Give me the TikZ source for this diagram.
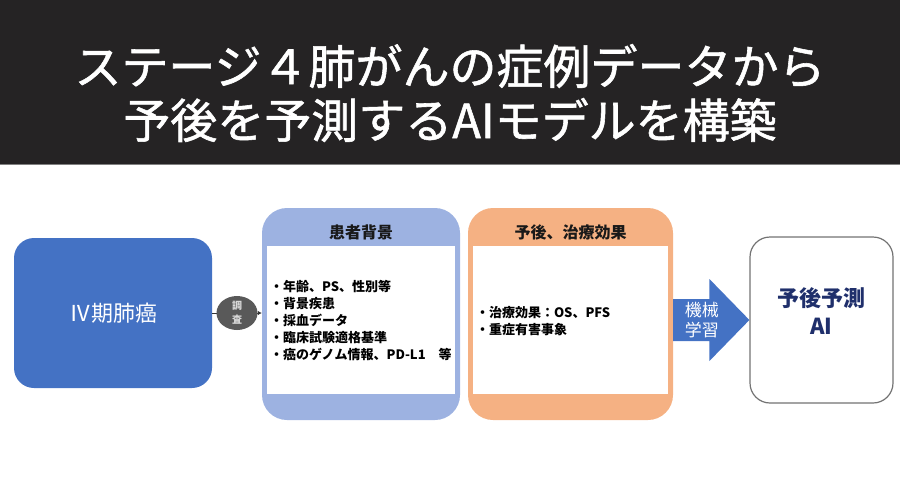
\documentclass[tikz,border=0pt]{standalone}
\usepackage{fontspec}
\setmainfont{Noto Sans CJK JP}
\newfontfamily\titlefont[FakeBold=1.2]{Noto Sans CJK JP}
\usepackage{xcolor}
\usetikzlibrary{calc,arrows.meta,shapes.geometric}
\definecolor{band}{HTML}{252324}
\definecolor{stageblue}{HTML}{4472C4}
\definecolor{lavender}{HTML}{9DB2E1}
\definecolor{salmon}{HTML}{F5B183}
\definecolor{navy}{HTML}{1F2F6B}
\tikzstyle{panel}=[rounded corners=25pt, minimum height=212pt, inner sep=0pt]
\tikzstyle{innerbox}=[fill=white, minimum height=148pt, inner sep=0pt]
\tikzstyle{items}=[font=\bfseries\fontsize{13}{17}\selectfont, align=left, inner sep=2pt, anchor=west]
\newcommand{\panelNbox}[6]{
	\node[panel, fill=#3, minimum width=#4] (#1) at #2 {};
	\node[innerbox, minimum width=#4-10pt] (#1in) at ($(#1.center)+(0,6)$) {};
	\node[font=\bfseries\fontsize{16}{16}\selectfont, text=black!90] (#1ttl) at ($(#1.north)+(0,25)$) {#5};
	\node[items] (#1txt) at ($(#1in.west)+(1,1)$) {#6};
}

\begin{document}
\begin{tikzpicture}[x=1pt, y=-1pt]
	\useasboundingbox (0,0) rectangle (900,490);
	\node[fill=band, minimum width=900pt, minimum height=164pt, inner sep=0pt, anchor=north west] (hdr) at (0,0) {};
	\draw[gray, line width=1.5pt] (hdr.south west) -- (hdr.south east);
	\node[text=white, font=\titlefont\fontsize{47}{54}\selectfont, align=center] (title) at (450,93) {ステージ４肺がんの症例データから\\予後を予測するAIモデルを構築};
	\node[fill=stageblue, rounded corners=20pt, minimum width=198pt, minimum height=150pt, text=white, font=\fontsize{22}{22}\selectfont] (stage) at (113,313) {Ⅳ期肺癌};
	\panelNbox{bg}{(361,314)}{lavender}{198pt}{患者背景}{・年齢、PS、性別等\\・背景疾患\\・採血データ\\・臨床試験適格基準\\・癌のゲノム情報、PD-L1　等}
	\panelNbox{sal}{(570.5,314)}{salmon}{205pt}{予後、治療効果}{・治療効果：OS、PFS\\・重症有害事象}
	\draw[black!80, line width=0.8pt, -{Latex[length=4pt,width=4.5pt]}] (stage.east) -- (stage.east -| bg.west);
	\node[ellipse, fill=black!65, minimum width=41pt, minimum height=34pt, inner sep=0pt, text=black!15, font=\bfseries\fontsize{10}{14}\selectfont, align=center] (survey) at ($(stage.east)!0.5!(stage.east -| bg.west)$) {調\\査};
	\node[draw=black!55, line width=1.2pt, rounded corners=20pt, minimum width=143pt, minimum height=166pt, fill=white] (ai) at (821.5,320) {};
	\node[text=navy, font=\bfseries\fontsize{22}{28}\selectfont, align=center] (aitxt) at ($(ai.center)+(0,-9)$) {予後予測\\AI};
	\fill[stageblue] (ai.west) -- ++(-40,-41) -- ++(0,20) -- ($(sal.east |- ai.west)+(0,-21)$) -- ++(0,42) -- ($(ai.west)+(-40,21)$) -- ++(0,20) -- cycle;
	\node[text=white, font=\fontsize{17}{20}\selectfont, align=center] (ml) at ($(sal.east |- ai.west)!0.375!(ai.west)$) {機械\\学習};
\end{tikzpicture}
\end{document}
